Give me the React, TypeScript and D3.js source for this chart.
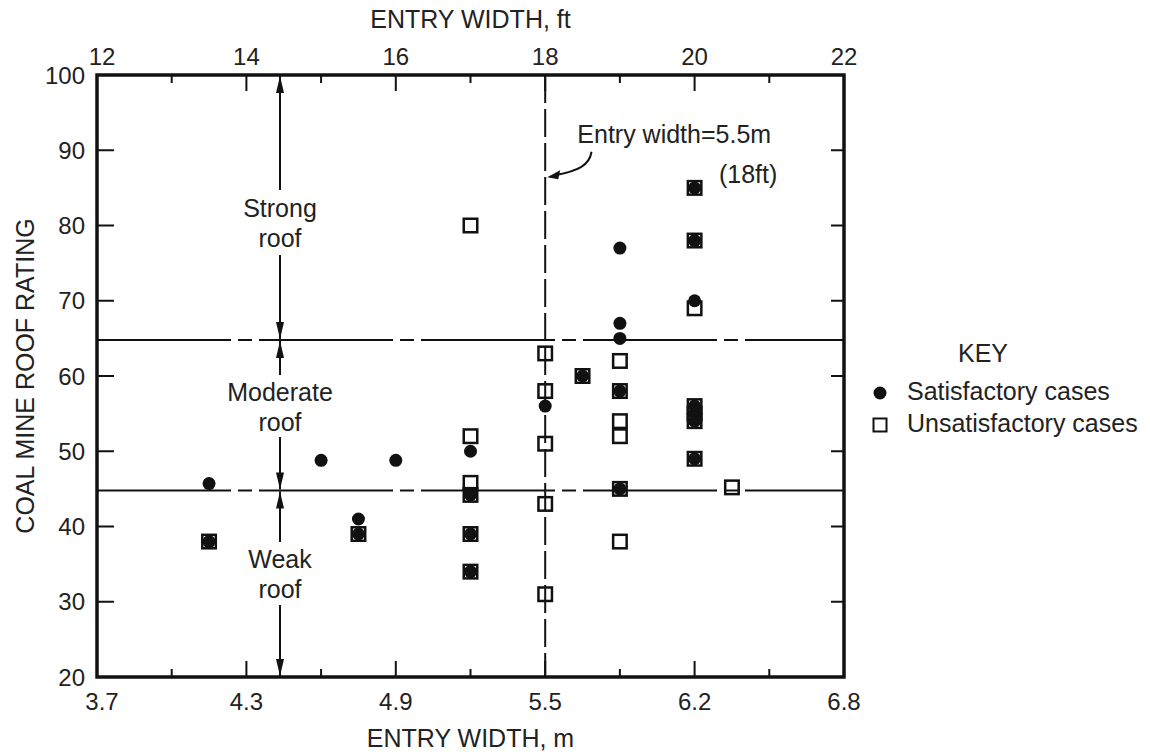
import React from 'react';
import * as d3 from 'd3';

// ---- data ----
const ftTicks = [12, 13, 14, 15, 16, 17, 18, 19, 20, 21, 22];
const ftLabels = [12, 14, 16, 18, 20, 22];
const mLabels = ['3.7', '4.3', '4.9', '5.5', '6.2', '6.8'];
const ratingTicks = [20, 30, 40, 50, 60, 70, 80, 90, 100];
const rightTicks = [30, 40, 50, 60, 70, 80, 90];

const satisfactoryFt = [13.5, 13.5, 15, 16, 15.5, 15.5, 17, 17, 17, 17, 18, 18.5, 19, 19, 19, 19, 19, 20, 20, 20, 20, 20, 20, 20];
const satisfactoryRating = [45.7, 38, 48.8, 48.8, 41, 39, 50, 44.2, 39, 34, 56, 60, 77, 67, 65, 58, 45, 85, 78, 70, 56, 55, 54, 49];

const unsatisfactoryFt = [13.5, 15.5, 17, 17, 17, 17, 17, 17, 18, 18, 18, 18, 18, 18.5, 19, 19, 19, 19, 19, 19, 20, 20, 20, 20, 20, 20, 20, 20.5];
const unsatisfactoryRating = [38, 39, 80, 52, 45.8, 44.2, 39, 34, 63, 58, 51, 43, 31, 60, 62, 58, 54, 52, 45, 38, 85, 78, 69, 56, 55, 54, 49, 45.2];

const boundaries = [64.8, 44.8];
const entryWidthFt = 18;

const FONT = "'Liberation Sans', Arial, Helvetica, sans-serif";

export default function App() {
  const W = 1150, H = 755;
  const left = 97, right = 844, top = 75, bottom = 677;
  const x = d3.scaleLinear().domain([12, 22]).range([left, right]);
  const y = d3.scaleLinear().domain([20, 100]).range([bottom, top]);

  const sq = 13.5;
  const arrowX = x(14.45);

  const arrowHead = (tipX: number, tipY: number, dir: 1 | -1) => {
    const len = 17, hw = 4;
    return `M${tipX},${tipY} L${tipX - hw},${tipY + dir * len} L${tipX + hw},${tipY + dir * len} Z`;
  };

  const regionLabel = (lines: string[], baseY: number) => (
    <text x={arrowX} y={baseY} textAnchor="middle" fontSize={25} fontFamily={FONT} fill="#222">
      {lines.map((l, i) => (
        <tspan key={i} x={arrowX} dy={i === 0 ? 0 : 30}>{l}</tspan>
      ))}
    </text>
  );

  const vArrow = (y1: number, y2: number, headAtStart: boolean, headAtEnd: boolean) => (
    <g>
      <line x1={arrowX} x2={arrowX} y1={y1} y2={y2} stroke="#111" strokeWidth={2} />
      {headAtStart && <path d={arrowHead(arrowX, y1, y2 > y1 ? 1 : -1)} fill="#111" />}
      {headAtEnd && <path d={arrowHead(arrowX, y2, y2 > y1 ? -1 : 1)} fill="#111" />}
    </g>
  );

  const yStrong = y(boundaries[0]);
  const yWeak = y(boundaries[1]);

  // annotation arrow geometry
  const ax0 = x(18.62), ay0 = y(89.8);
  const axTip = x(entryWidthFt) + 2, ayTip = y(86.4);
  const annPath = `M${ax0},${ay0} C${ax0 - 2},${ay0 + 14} ${ax0 - 14},${ay0 + 19} ${axTip + 8},${ayTip - 2}`;

  const labelShift = (i: number) => (i === 0 ? 5 : 0);

  return (
    <svg width={W} height={H} style={{ position: 'absolute', left: 0, top: 0, background: '#fff' }}>
      <rect x={0} y={0} width={W} height={H} fill="#fff" />

      {/* boundary lines */}
      {boundaries.map((b, i) => (
        <line key={i} x1={left} x2={right} y1={y(b)} y2={y(b)} stroke="#111" strokeWidth={2}
          strokeDasharray="134 7 14 7" />
      ))}
      {/* vertical entry width line */}
      <line x1={x(entryWidthFt)} x2={x(entryWidthFt)} y1={top} y2={bottom} stroke="#111" strokeWidth={2}
        strokeDasharray="28 6" />

      {/* ticks */}
      {ftTicks.map((t) => {
        const len = t % 2 === 0 ? 16 : 8;
        return (
          <g key={t}>
            <line x1={x(t)} x2={x(t)} y1={top} y2={top + len} stroke="#111" strokeWidth={2} />
            <line x1={x(t)} x2={x(t)} y1={bottom} y2={bottom - len} stroke="#111" strokeWidth={2} />
          </g>
        );
      })}
      {ratingTicks.map((t) => (
        <line key={t} x1={left} x2={left + 17} y1={y(t)} y2={y(t)} stroke="#111" strokeWidth={2} />
      ))}
      {rightTicks.map((t) => (
        <line key={t} x1={right} x2={right - 13} y1={y(t)} y2={y(t)} stroke="#111" strokeWidth={2} />
      ))}

      {/* frame */}
      <rect x={left} y={top} width={right - left} height={bottom - top} fill="none" stroke="#111" strokeWidth={3.5} />

      {/* tick labels */}
      {ftLabels.map((t, i) => (
        <text key={t} x={x(t) + labelShift(i)} y={top - 10} textAnchor="middle" fontSize={24} fontFamily={FONT} fill="#222">{t}</text>
      ))}
      {mLabels.map((lab, i) => (
        <text key={lab} x={x(ftLabels[i]) + labelShift(i)} y={bottom + 33} textAnchor="middle" fontSize={24} fontFamily={FONT} fill="#222">{lab}</text>
      ))}
      {ratingTicks.map((t) => (
        <text key={t} x={left - 12} y={y(t) + 8.5} textAnchor="end" fontSize={24} fontFamily={FONT} fill="#222">{t}</text>
      ))}

      {/* axis titles */}
      <text x={(left + right) / 2} y={28} textAnchor="middle" fontSize={25} fontFamily={FONT} fill="#222">ENTRY WIDTH, ft</text>
      <text x={(left + right) / 2} y={747} textAnchor="middle" fontSize={25} fontFamily={FONT} fill="#222">ENTRY WIDTH, m</text>
      <text transform={`translate(34,${(top + bottom) / 2}) rotate(-90)`} textAnchor="middle" fontSize={25}
        fontFamily={FONT} fill="#222">COAL MINE ROOF RATING</text>

      {/* region arrows and labels */}
      {vArrow(top + 1, 190, true, false)}
      {vArrow(255, yStrong - 1, false, true)}
      {regionLabel(['Strong', 'roof'], 217)}
      {vArrow(yStrong + 1, 375, true, false)}
      {vArrow(437, yWeak - 1, false, true)}
      {regionLabel(['Moderate', 'roof'], 401)}
      {vArrow(yWeak + 1, 542, true, false)}
      {vArrow(605, bottom - 1, false, true)}
      {regionLabel(['Weak', 'roof'], 568)}

      {/* annotation */}
      <text x={x(18.43)} y={y(90.96)} fontSize={25} fontFamily={FONT} fill="#222">Entry width=5.5m</text>
      <text x={x(18.43) + 200} y={y(90.96) + 40} textAnchor="end" fontSize={25} fontFamily={FONT} fill="#222">(18ft)</text>
      <path d={annPath} fill="none" stroke="#111" strokeWidth={2} />
      <path d={`M${axTip},${ayTip} L${axTip + 13},${ayTip - 7} L${axTip + 11},${ayTip + 2} Z`} fill="#111" />

      {/* data: unsatisfactory squares */}
      {unsatisfactoryFt.map((f, i) => (
        <rect key={'u' + i} x={x(f) - sq / 2} y={y(unsatisfactoryRating[i]) - sq / 2} width={sq} height={sq}
          fill="none" stroke="#111" strokeWidth={2.5} />
      ))}
      {/* data: satisfactory circles */}
      {satisfactoryFt.map((f, i) => (
        <circle key={'s' + i} cx={x(f)} cy={y(satisfactoryRating[i])} r={6.5} fill="#111" />
      ))}

      {/* legend */}
      <text x={983} y={362} textAnchor="middle" fontSize={25} fontFamily={FONT} fill="#222">KEY</text>
      <circle cx={880} cy={393} r={6.5} fill="#111" />
      <text x={907} y={400} fontSize={25} fontFamily={FONT} fill="#222">Satisfactory cases</text>
      <rect x={880 - 6.5} y={425 - 6.5} width={13} height={13} fill="none" stroke="#111" strokeWidth={2} />
      <text x={907} y={432} fontSize={25} fontFamily={FONT} fill="#222">Unsatisfactory cases</text>
    </svg>
  );
}
